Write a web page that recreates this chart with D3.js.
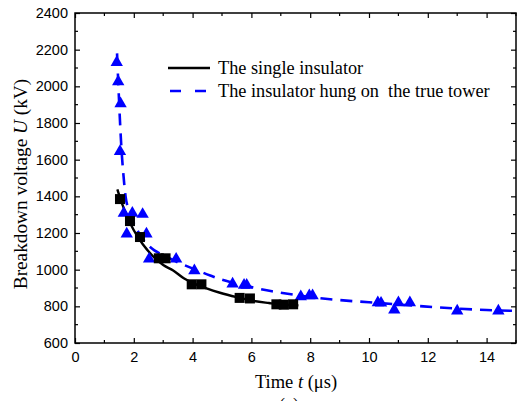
<!DOCTYPE html>
<html><head><meta charset="utf-8">
<script src="https://cdnjs.cloudflare.com/ajax/libs/d3/7.8.5/d3.min.js"></script>
<style>body{margin:0;background:#fff;}svg{display:block;}
.serif{font-family:'Liberation Serif','Times New Roman',serif;}
.sans{font-family:'Liberation Sans',Arial,sans-serif;}
</style>
</head><body>
<svg id="c" width="519" height="401"></svg>
<script>
// Data
const singleT = [1.53,1.87,2.21,2.85,3.08,3.97,4.30,5.60,5.95,6.85,7.10,7.42];
const singleU = [1385,1265,1178,1062,1062,920,920,846,843,811,809,811];
const towerT = [1.42,1.47,1.55,1.53,1.66,1.95,2.30,1.76,2.43,2.52,3.44,4.06,5.36,5.75,5.84,7.68,7.97,8.08,10.30,10.41,10.86,11.00,11.39,13.00,14.40];
const towerU = [2130,2025,1905,1645,1308,1308,1302,1195,1195,1058,1058,995,922,915,915,853,858,858,820,818,780,820,820,775,775];
const singleFitT = [1.44,1.6,1.8,2.0,2.3,2.66,3.0,3.34,3.7,4.0,4.5,4.93,5.5,6.0,6.6,7.0,7.6];
const singleFitU = [1438,1360,1280,1215,1140,1072,1025,995,953,928,896,874,850,832,818,810,805];
const towerFitT = [1.43,1.48,1.53,1.58,1.64,1.72,1.85,2.0,2.3,2.7,3.0,3.5,4.1,4.6,5.0,5.4,6.0,6.7,7.5,8.6,10.0,11.0,11.85,13.0,14.0,15.0];
const towerFitU = [2180,1990,1810,1660,1530,1400,1320,1255,1170,1105,1080,1040,1000,968,945,928,905,882,862,840,822,810,800,788,780,775];
const xTicks = [0,2,4,6,8,10,12,14];
const yTicks = [600,800,1000,1200,1400,1600,1800,2000,2200,2400];
const legendLabels = ["The single insulator","The insulator hung on  the true tower"];

const svg = d3.select("#c");
const L=75,R=516,T=13,B=343;
const x = d3.scaleLinear().domain([0,15]).range([L,R]);
const y = d3.scaleLinear().domain([600,2400]).range([B,T]);

// frame & ticks
const minorX = d3.range(0,15.01,1), minorY = d3.range(600,2401,100);
const axB = d3.axisBottom(x).tickValues(xTicks).tickSizeInner(-5).tickSizeOuter(0).tickPadding(9).tickFormat(d3.format("d"));
const axL = d3.axisLeft(y).tickValues(yTicks).tickSizeInner(-5).tickSizeOuter(0).tickPadding(7).tickFormat(d3.format("d"));
const gB = svg.append("g").attr("transform",`translate(0,${B})`).call(axB);
const gL = svg.append("g").attr("transform",`translate(${L},0)`).call(axL);
[gB,gL].forEach(g=>{g.attr("font-family",null).attr("font-size",null);g.select(".domain").remove();g.selectAll("text").attr("class","sans").style("font-size","14.5px").attr("fill","#000");g.selectAll("line").attr("stroke","#000").attr("stroke-width",1.2);});
const gT = svg.append("g").attr("transform",`translate(0,${T})`).call(d3.axisTop(x).tickValues(xTicks).tickSizeInner(-5).tickSizeOuter(0).tickFormat(""));
const gR = svg.append("g").attr("transform",`translate(${R},0)`).call(d3.axisRight(y).tickValues(yTicks).tickSizeInner(-5).tickSizeOuter(0).tickFormat(""));
[gT,gR].forEach(g=>{g.select(".domain").remove();g.selectAll("line").attr("stroke","#000").attr("stroke-width",1.2);});
const mX = minorX.filter(v=>v%2!==0), mY = minorY.filter(v=>v%200!==0);
svg.append("g").selectAll("line").data(mX).join("line").attr("x1",d=>x(d)).attr("x2",d=>x(d)).attr("y1",B).attr("y2",B-3).attr("stroke","#000").attr("stroke-width",1.2);
svg.append("g").selectAll("line").data(mX).join("line").attr("x1",d=>x(d)).attr("x2",d=>x(d)).attr("y1",T).attr("y2",T+3).attr("stroke","#000").attr("stroke-width",1.2);
svg.append("g").selectAll("line").data(mY).join("line").attr("x1",L).attr("x2",L+3).attr("y1",d=>y(d)).attr("y2",d=>y(d)).attr("stroke","#000").attr("stroke-width",1.2);
svg.append("g").selectAll("line").data(mY).join("line").attr("x1",R).attr("x2",R-3).attr("y1",d=>y(d)).attr("y2",d=>y(d)).attr("stroke","#000").attr("stroke-width",1.2);
svg.append("rect").attr("x",L).attr("y",T).attr("width",R-L).attr("height",B-T).attr("fill","none").attr("stroke","#000").attr("stroke-width",1.5);

// lines
const line = d3.line().x(d=>x(d[0])).y(d=>y(d[1])).curve(d3.curveMonotoneX);
const plot = svg.append("g");
plot.append("path").datum(towerFitT.map((t,i)=>[t,towerFitU[i]])).attr("d",line)
  .attr("fill","none").attr("stroke","#0000ff").attr("stroke-width",2.6).attr("stroke-dasharray","12,8");
plot.append("path").datum(singleFitT.map((t,i)=>[t,singleFitU[i]])).attr("d",line)
  .attr("fill","none").attr("stroke","#000").attr("stroke-width",2.4);
// markers
const tri = d3.symbol().type(d3.symbolTriangle).size(66);
plot.append("g").selectAll("path").data(towerT.map((t,i)=>[t,towerU[i]])).join("path")
  .attr("d",tri).attr("transform",d=>`translate(${x(d[0])},${y(d[1])})`).attr("fill","#0000ff");
plot.append("g").selectAll("rect").data(singleT.map((t,i)=>[t,singleU[i]])).join("rect")
  .attr("x",d=>x(d[0])-5).attr("y",d=>y(d[1])-5).attr("width",10).attr("height",10).attr("fill","#000");

// legend
const lg = svg.append("g");
lg.append("line").attr("x1",168).attr("x2",210).attr("y1",68).attr("y2",68).attr("stroke","#000").attr("stroke-width",2.4);
lg.append("line").attr("x1",170).attr("x2",207).attr("y1",91).attr("y2",91).attr("stroke","#0000ff").attr("stroke-width",2.6).attr("stroke-dasharray","11,14");
lg.append("text").attr("class","serif").style("font-size","18.3px").attr("x",218).attr("y",74).text(legendLabels[0]);
lg.append("text").attr("class","serif").style("font-size","18.3px").style("white-space","pre").attr("x",218).attr("y",97).text(legendLabels[1]);

// axis titles
const xt = svg.append("text").attr("class","serif").style("font-size","18.5px").attr("x",296).attr("y",388).attr("text-anchor","middle");
xt.append("tspan").text("Time ");
xt.append("tspan").attr("font-style","italic").text("t");
xt.append("tspan").text(" (\u03bcs)");
const yt = svg.append("text").attr("class","serif").style("font-size","19.3px").attr("transform","translate(27,184) rotate(-90)").attr("text-anchor","middle");
yt.append("tspan").text("Breakdown voltage ");
yt.append("tspan").attr("font-style","italic").text("U");
yt.append("tspan").text(" (kV)");
svg.append("text").attr("class","serif").style("font-size","18px").attr("x",289).attr("y",411).attr("text-anchor","middle").text("(a)");
</script>
</body></html>
